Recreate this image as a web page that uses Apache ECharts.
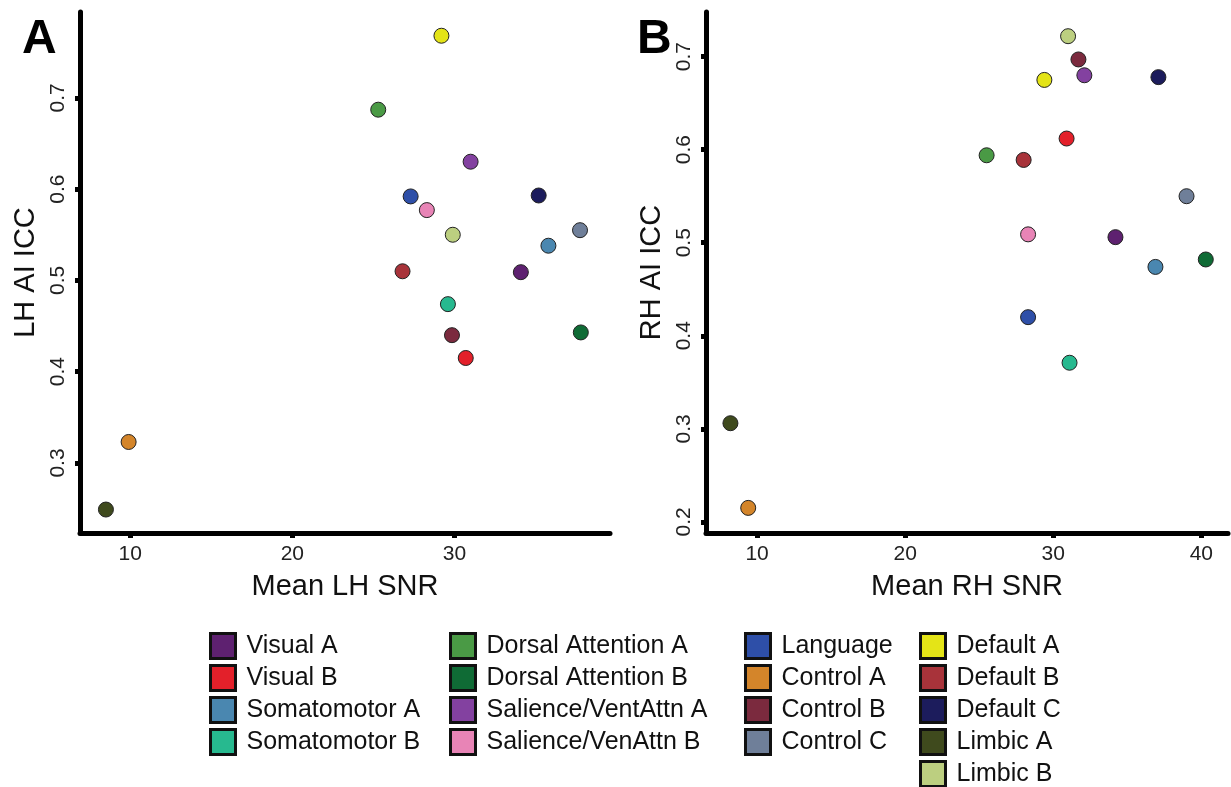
<!DOCTYPE html>
<html><head><meta charset="utf-8">
<script src="https://cdn.jsdelivr.net/npm/echarts@6/dist/echarts.min.js"></script>
<style>html,body{margin:0;padding:0;background:#fff}#c{width:1231px;height:787px}</style>
</head><body><div id="c"></div>
<script>
const networks = ["Visual A","Visual B","Somatomotor A","Somatomotor B","Dorsal Attention A","Dorsal Attention B","Salience/VentAttn A","Salience/VenAttn B","Language","Control A","Control B","Control C","Default A","Default B","Default C","Limbic A","Limbic B"];
const colors = ["#5e2170","#e3202a","#4a87b0","#27b98f","#4a9a45","#0f6b35","#8341a0","#e884b6","#2e4fa8","#d4852a","#7b2a3e","#6f7f99","#e4e417","#a8333a","#1c1c5c","#3f4a1d","#bccf80"];
const lhSNR = [34.1,30.7,35.8,29.6,25.3,37.8,31.0,28.3,27.3,9.9,29.85,37.75,29.2,26.8,35.2,8.5,29.9];
const lhICC = [0.509,0.415,0.538,0.474,0.687,0.443,0.630,0.577,0.592,0.323,0.440,0.555,0.768,0.510,0.593,0.249,0.550];
const rhSNR = [34.2,30.9,36.9,31.1,25.5,40.3,32.1,28.3,28.3,9.4,31.7,39.0,29.4,28.0,37.1,8.2,31.0];
const rhICC = [0.506,0.612,0.474,0.371,0.594,0.482,0.680,0.509,0.420,0.215,0.697,0.550,0.675,0.589,0.678,0.306,0.722];
const xTicksA = [10,20,30];
const yTicksA = [0.3,0.4,0.5,0.6,0.7];
const xTicksB = [10,20,30,40];
const yTicksB = [0.2,0.3,0.4,0.5,0.6,0.7];
const legendCols = [[0,1,2,3],[4,5,6,7],[8,9,10,11],[12,13,14,15,16]];

const FONT = '"Liberation Sans", Arial, sans-serif';
const axisLine = {show:true, lineStyle:{color:'#000', width:5}};
const axisTick = (vals)=>({show:true, length:5, lineStyle:{color:'#000', width:5}, customValues: vals});
const axisLabel = (vals, rot)=>({show:true, color:'#222', fontSize:21, fontFamily:FONT, margin:11, rotate:rot||0, customValues: vals});
const nameStyle = {color:'#111', fontSize:29, fontFamily:FONT};

const chart = echarts.init(document.getElementById('c'));
const series = [];
networks.forEach((n,i)=>{
  series.push({name:n, type:'scatter', xAxisIndex:0, yAxisIndex:0, symbolSize:15,
    itemStyle:{color:colors[i], borderColor:'#222', borderWidth:1, opacity:1},
    data:[[lhSNR[i], lhICC[i]]]});
  series.push({name:n, type:'scatter', xAxisIndex:1, yAxisIndex:1, symbolSize:15,
    itemStyle:{color:colors[i], borderColor:'#222', borderWidth:1, opacity:1},
    data:[[rhSNR[i], rhICC[i]]]});
});
const legendX = [209, 449, 744, 919];
const legends = legendCols.map((col,ci)=>({
  orient:'vertical', left:legendX[ci], top:632, height:200, padding:0, itemGap:4,
  itemWidth:25, itemHeight:25, icon:'rect', selectedMode:false,
  itemStyle:{borderColor:'#111', borderWidth:3},
  textStyle:{fontSize:25, lineHeight:25, fontFamily:FONT, color:'#111', padding:[0,0,0,6]},
  data: col.map(i=>networks[i])
}));
chart.setOption({
  animation:false,
  backgroundColor:'#fff',
  color: colors,
  title:[
    {text:'A', left:22, top:16, padding:0, textStyle:{fontSize:48, fontWeight:'bold', fontFamily:FONT, color:'#000'}},
    {text:'B', left:637, top:16, padding:0, textStyle:{fontSize:48, fontWeight:'bold', fontFamily:FONT, color:'#000'}}
  ],
  legend: legends,
  grid:[
    {left:80, top:12, width:530, height:521},
    {left:706, top:12, width:522, height:521}
  ],
  xAxis:[
    {type:'value', gridIndex:0, min:6.9, max:39.6, axisLine, axisTick:axisTick(xTicksA), axisLabel:axisLabel(xTicksA), splitLine:{show:false},
     name:'Mean LH SNR', nameLocation:'middle', nameGap:39, nameTextStyle:nameStyle},
    {type:'value', gridIndex:1, min:6.55, max:41.8, axisLine, axisTick:axisTick(xTicksB), axisLabel:axisLabel(xTicksB), splitLine:{show:false},
     name:'Mean RH SNR', nameLocation:'middle', nameGap:39, nameTextStyle:nameStyle}
  ],
  yAxis:[
    {type:'value', gridIndex:0, min:0.2233, max:0.794, axisLine, axisTick:axisTick(yTicksA), axisLabel:axisLabel(yTicksA,90), splitLine:{show:false},
     name:'LH AI ICC', nameLocation:'middle', nameGap:40, nameTextStyle:nameStyle},
    {type:'value', gridIndex:1, min:0.188, max:0.748, axisLine, axisTick:axisTick(yTicksB), axisLabel:axisLabel(yTicksB,90), splitLine:{show:false},
     name:'RH AI ICC', nameLocation:'middle', nameGap:40, nameTextStyle:nameStyle}
  ],
  series
});
</script></body></html>
